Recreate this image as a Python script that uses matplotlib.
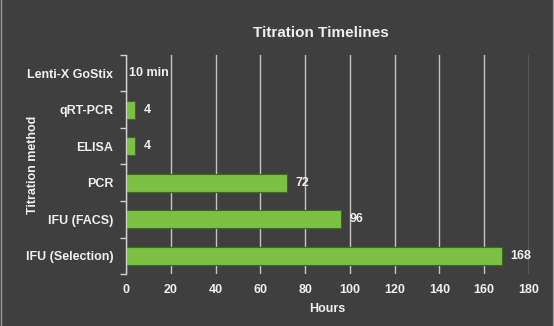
import matplotlib
matplotlib.use("Agg")
import matplotlib.pyplot as plt
from matplotlib.lines import Line2D

# titration methods and how long each one takes (hours)
methods = ["Lenti-X GoStix", "qRT-PCR", "ELISA", "PCR", "IFU (FACS)", "IFU (Selection)"]
hours = [10 / 60, 4, 4, 72, 96, 168]
value_labels = ["10 min", "4", "4", "72", "96", "168"]
xticks = [0, 20, 40, 60, 80, 100, 120, 140, 160, 180]

bg = "#3f3f40"
green = "#7bc143"
txt = "#efefef"

plt.rcParams["font.family"] = ["Liberation Sans", "DejaVu Sans"]
plt.rcParams["font.weight"] = "bold"

fig = plt.figure(figsize=(5.54, 3.26), dpi=100, facecolor=bg)
ax = fig.add_axes([0.2274, 0.1595, 0.9549 - 0.2274, 0.8313 - 0.1595])
ax.set_facecolor(bg)

ypos = list(range(len(methods)))
ax.barh(ypos, hours, height=0.48, color=green, edgecolor="#3d6a22", linewidth=0.8, zorder=3)

for y, v, lab in zip(ypos, hours, value_labels):
    off = 2 if lab == "10 min" else 6
    ax.annotate(lab, (v, y), xytext=(off, 0), textcoords="offset points",
                va="center", ha="left", color=txt, fontsize=9, fontweight="bold")

ax.set_xlim(0, 180)
ax.set_ylim(len(methods) - 0.5, -0.5)
ax.set_xticks(xticks)
ax.set_xticklabels([str(t) for t in xticks])

# category names sit between the boundary ticks
ax.set_yticks([y + 0.5 for y in range(-1, len(methods))])
ax.set_yticklabels([])
ax.set_yticks(ypos, minor=True)
ax.set_yticklabels(methods, minor=True)
ax.tick_params(axis="y", which="major", length=4, width=1, color="#d0d0d0", direction="out")
ax.tick_params(axis="y", which="minor", length=0, pad=9, labelsize=9, labelcolor=txt)
ax.tick_params(axis="x", length=0, pad=7, labelsize=9, labelcolor=txt)

ax.grid(axis="x", color="#c4c4c4", linewidth=1, zorder=0)
for s in ["top", "right", "bottom"]:
    ax.spines[s].set_visible(False)
ax.spines["left"].set_color("#d0d0d0")
ax.spines["left"].set_linewidth(1)
ax.spines["left"].set_zorder(4)

ax.set_xlabel("Hours", color=txt, fontsize=9, fontweight="bold", labelpad=5)
ax.set_ylabel("Titration method", color=txt, fontsize=9, fontweight="bold")
ax.yaxis.set_label_coords(-0.216, 0.5)

fig.text(0.58, 0.9, "Titration Timelines", color=txt, fontsize=11, fontweight="bold",
         ha="center", va="center")

# thin light edges on the left and right of the panel
fig.add_artist(Line2D([0.002, 0.002], [0, 1], color="#9a9a9a", linewidth=1, transform=fig.transFigure))
fig.add_artist(Line2D([0.998, 0.998], [0, 1], color="#9a9a9a", linewidth=1, transform=fig.transFigure))

fig.savefig("out.png", dpi=100, facecolor=bg)
